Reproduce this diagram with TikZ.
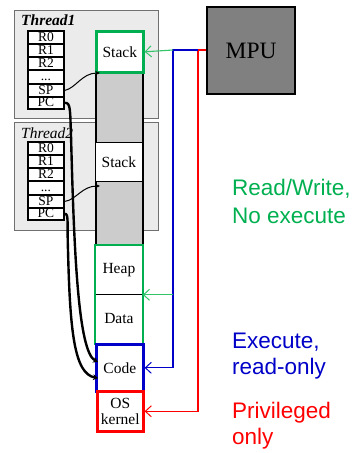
\documentclass[tikz,border=0pt]{standalone}
\usepackage{fontspec}
\setmainfont{Liberation Serif}
\newfontfamily\arialf{Liberation Sans}
\usetikzlibrary{arrows.meta}
\definecolor{mgreen}{HTML}{00B050}
\definecolor{lgreen}{HTML}{33C46A}
\definecolor{mblue}{HTML}{0000C8}
\definecolor{mred}{HTML}{FF0000}
\definecolor{thrfill}{HTML}{EBEBEB}
\definecolor{thrdraw}{HTML}{707070}
\definecolor{colfill}{HTML}{CCCCCC}
\tikzset{
  thr/.style={draw=thrdraw, line width=1pt, fill=thrfill, anchor=north west, minimum width=144pt, minimum height=108pt, inner sep=0pt},
  thrlabel/.style={anchor=west, inner sep=0pt, font=\fontsize{15.5}{15.5}\selectfont\itshape},
  reg/.style={draw, line width=1.8pt, fill=white, anchor=north west, minimum width=36pt, inner sep=0pt, text height=9pt, text depth=1.5pt, font=\fontsize{13.5}{13.5}\selectfont},
  mem/.style={draw, line width=0.8pt, fill=white, anchor=north west, minimum width=47pt, inner sep=0pt, align=center, font=\fontsize{15.5}{16}\selectfont},
  gbox/.style={draw=mgreen, line width=2.6pt},
  bbox/.style={draw=mblue, line width=2.6pt},
  rbox/.style={draw=mred, line width=2.6pt},
  mpuline/.style={line width=1.1pt, -{Straight Barb[length=6pt,width=11pt,line width=1pt]}},
  spline/.style={line width=1pt, -{Stealth[length=5pt,width=4.5pt]}},
  pcline/.style={line width=2.4pt, -{Stealth[length=5pt,width=6pt]}},
  legend/.style={anchor=base west, inner sep=0pt, font=\arialf\fontsize{22.5}{22.5}\selectfont},
}
\begin{document}
\begin{tikzpicture}[x=1pt,y=-1pt]
\useasboundingbox (0,0) rectangle (357,453);
% thread boxes
\node[thr] (th1) at (14,10) {};
\node[thr] (th2) at (14,122) {};
\node[thrlabel, font=\fontsize{15.5}{15.5}\selectfont\bfseries\itshape] (th1l) at (21,20) {Thread1};
\node[thrlabel] (th2l) at (21,133) {Thread2};
% registers thread 1
\node[reg, minimum height=13pt] (t1r0) at (27,30) {R0};
\node[reg, minimum height=13pt] (t1r1) at (27,43) {R1};
\node[reg, minimum height=13pt] (t1r2) at (27,56) {R2};
\node[reg, minimum height=14pt] (t1rd) at (27,69) {...};
\node[reg, minimum height=13pt] (t1sp) at (27,83) {SP};
\node[reg, minimum height=12pt] (t1pc) at (27,96) {PC};
% registers thread 2
\node[reg, minimum height=13pt] (t2r0) at (27,141) {R0};
\node[reg, minimum height=13pt] (t2r1) at (27,154) {R1};
\node[reg, minimum height=13pt] (t2r2) at (27,167) {R2};
\node[reg, minimum height=14pt] (t2rd) at (27,180) {...};
\node[reg, minimum height=13pt] (t2sp) at (27,194) {SP};
\node[reg, minimum height=12pt] (t2pc) at (27,207) {PC};
% memory column
\node[draw, line width=1.5pt, fill=colfill, anchor=north west, minimum width=47pt, minimum height=313pt, inner sep=0pt] (col) at (95,30) {};
\node[mem, gbox, minimum height=41pt] (stack1) at (95,30) {Stack};
\node[mem, minimum height=39pt] (stack2) at (95,142) {Stack};
\node[mem, minimum height=49pt] (heap) at (95,245) {Heap};
\node[mem, minimum height=49pt] (data) at (95,294) {Data};
\draw[gbox] (heap.north west) rectangle (data.south east);
\node[mem, bbox, minimum height=47pt] (code) at (95,343) {Code};
\node[mem, rbox, minimum width=46pt, minimum height=40pt] (os) at (96,390) {OS\\kernel};
% MPU
\node[draw, line width=2.4pt, fill=black!50, anchor=north west, minimum width=88pt, minimum height=87pt, inner sep=0pt, font=\fontsize{23.5}{23.5}\selectfont] (mpu) at (206,6) {MPU};
% MPU connectors
\coordinate (rx) at (198,50);
\coordinate (bx) at (173,50);
\draw[mpuline, mred] (mpu.west |- rx) -- (rx) |- (os.east);
\draw[mpuline, mblue] (rx) -- (bx) |- (code.east);
\draw[mpuline, lgreen] (bx) -- (stack1.east);
\draw[mpuline, lgreen] (bx |- heap.south) -- (heap.south east);
% SP pointers
\coordinate (sp1t) at (100,73);
\coordinate (sp2t) at (100,186);
\draw[spline] (t1sp.east) .. controls (76,88) and (82,73) .. (sp1t);
\draw[spline] (t2sp.east) .. controls (76,200) and (82,186) .. (sp2t);
% PC pointers
\coordinate (pc1t) at (98,362);
\coordinate (pc2t) at (98,378);
\draw[pcline] (t1pc.east) .. controls (71,102) and (70,112) .. (71,135) .. controls (74,250) and (78,352) .. (pc1t);
\draw[pcline] (t2pc.east) .. controls (69,213) and (67,225) .. (68,250) .. controls (70,330) and (74,374) .. (pc2t);
% legend
\node[legend, text=mgreen] (l1a) at (232,195) {Read/Write,};
\node[legend, text=mgreen] (l1b) at (232,223) {No execute};
\node[legend, text=mblue] (l2a) at (232,348) {Execute,};
\node[legend, text=mblue] (l2b) at (232,374) {read-only};
\node[legend, text=mred] (l3a) at (232,418) {Privileged};
\node[legend, text=mred] (l3b) at (232,444) {only};
\end{tikzpicture}
\end{document}
